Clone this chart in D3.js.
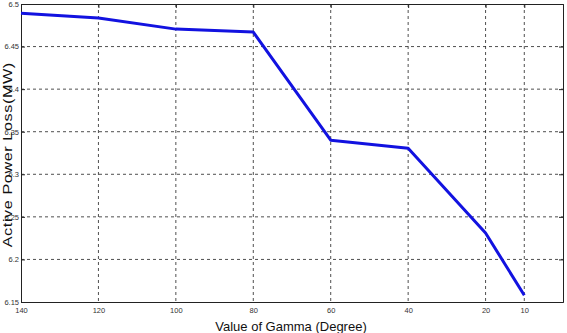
<!DOCTYPE html>
<html><head><meta charset="utf-8">
<script src="https://cdn.jsdelivr.net/npm/d3@7"></script>
<style>body{margin:0;background:#fff}svg{display:block}</style>
</head><body><svg id="c" width="567" height="333"></svg>
<script>
const gamma = [140, 120, 100, 80, 60, 40, 20, 10];
const loss = [6.489, 6.4835, 6.4705, 6.467, 6.340, 6.3305, 6.231, 6.158];
const xTicks = [140, 120, 100, 80, 60, 40, 20, 10];
const yTicks = [6.15, 6.2, 6.25, 6.3, 6.35, 6.4, 6.45, 6.5];
const xTitle = "Value of Gamma (Degree)";
const yTitle = "Active Power Loss(MW)";

const svg = d3.select("#c");
const L = 21, R = 563, T = 4, B = 302;
const x = d3.scaleLinear().domain([140, 0]).range([L, R]);
const y = d3.scaleLinear().domain([6.15, 6.5]).range([B, T]);
const narrow = "'Liberation Sans Narrow','Arial Narrow',sans-serif";

// grid
const g = svg.append("g");
g.selectAll(".vg").data(xTicks.filter(d => d !== 140)).enter().append("line")
  .attr("x1", d => x(d)).attr("x2", d => x(d)).attr("y1", T).attr("y2", B)
  .attr("stroke", "#222").attr("stroke-width", 0.8).attr("stroke-dasharray", "3,3");
g.selectAll(".hg").data(yTicks.filter(d => d !== 6.15 && d !== 6.5)).enter().append("line")
  .attr("x1", L).attr("x2", R).attr("y1", d => y(d)).attr("y2", d => y(d))
  .attr("stroke", "#222").attr("stroke-width", 0.8).attr("stroke-dasharray", "3,3");

// axes
const xa = svg.append("g").attr("transform", `translate(0,${B})`)
  .call(d3.axisBottom(x).tickValues(xTicks).tickSize(0).tickPadding(5.5).tickFormat(d3.format("d")));
const xaTop = svg.append("g").attr("transform", `translate(0,${T})`)
  .call(d3.axisTop(x).tickValues(xTicks).tickSize(-4).tickFormat(""));
const ya = svg.append("g").attr("transform", `translate(${L},0)`)
  .call(d3.axisLeft(y).tickValues(yTicks).tickSize(-4).tickPadding(2).tickFormat(d => d3.format("")(+d.toFixed(2))));
const yaR = svg.append("g").attr("transform", `translate(${R},0)`)
  .call(d3.axisRight(y).tickValues(yTicks).tickSize(-4).tickFormat(""));
[xa, xaTop, ya, yaR].forEach(a => {
  a.selectAll(".domain").attr("stroke", "#222").attr("stroke-width", 1);
  a.selectAll(".tick line").attr("stroke", "#222");
  a.selectAll("text").attr("font-family", narrow).attr("font-size", 7.5).attr("fill", "#333");
});
ya.selectAll("text").attr("dy", "0.32em");

// line
svg.append("path").datum(gamma.map((d, i) => [d, loss[i]]))
  .attr("fill", "none").attr("stroke", "#1212e0").attr("stroke-width", 3)
  .attr("stroke-linejoin", "round")
  .attr("d", d3.line().x(d => x(d[0])).y(d => y(d[1])));

// titles
svg.append("text").attr("x", 291).attr("y", 331).attr("text-anchor", "middle")
  .attr("font-family", narrow).attr("font-size", 13).attr("fill", "#111").text(xTitle);
svg.append("text").attr("transform", "translate(11.5,155) rotate(-90) scale(1.3,1)").attr("text-anchor", "middle")
  .attr("font-family", "'Liberation Sans',Arial,sans-serif").attr("font-size", 12.5)
  .attr("textLength", 142).attr("lengthAdjust", "spacing")
  .attr("fill", "#111").text(yTitle);
</script></body></html>
